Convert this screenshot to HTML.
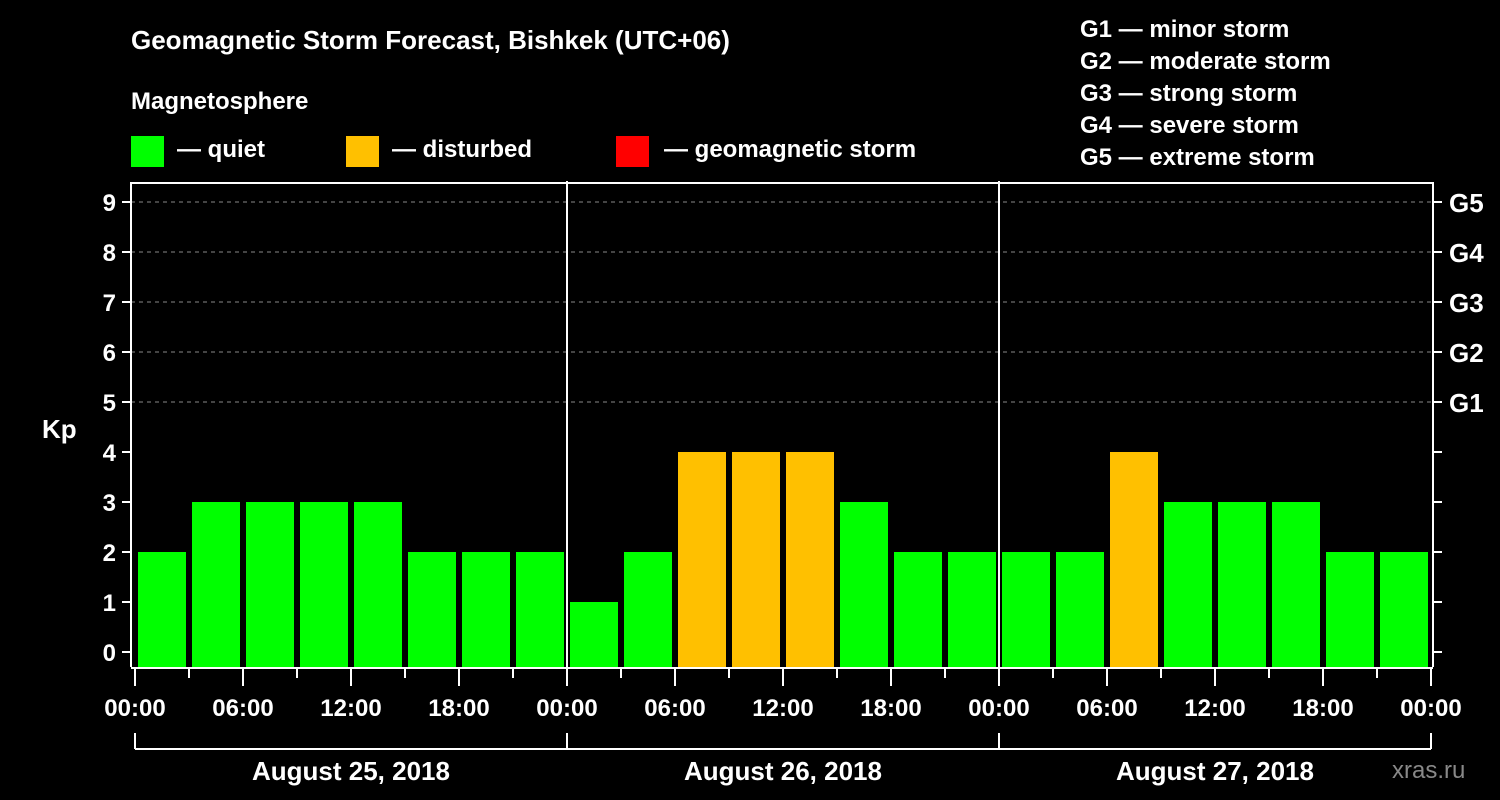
<!DOCTYPE html>
<html><head><meta charset="utf-8"><style>
html,body{margin:0;padding:0;background:#000;}
svg{display:block;font-family:"Liberation Sans",sans-serif;font-weight:bold;}
</style></head><body>
<svg id="chart" width="1500" height="800" viewBox="0 0 1500 800" xmlns="http://www.w3.org/2000/svg">
<rect width="1500" height="800" fill="#000"/>
<text x="131" y="49" fill="#fff" font-size="26">Geomagnetic Storm Forecast, Bishkek (UTC+06)</text>
<text x="131" y="109" fill="#fff" font-size="24">Magnetosphere</text>
<g><rect x="131" y="136" width="33" height="31" fill="#00ff00"/><text x="177" y="157" fill="#fff" font-size="24">— quiet</text></g>
<g><rect x="346" y="136" width="33" height="31" fill="#ffc000"/><text x="392" y="157" fill="#fff" font-size="24">— disturbed</text></g>
<g><rect x="616" y="136" width="33" height="31" fill="#ff0000"/><text x="664" y="157" fill="#fff" font-size="24">— geomagnetic storm</text></g>
<g fill="#fff" font-size="24">
<text x="1080" y="37">G1 — minor storm</text>
<text x="1080" y="69">G2 — moderate storm</text>
<text x="1080" y="101">G3 — strong storm</text>
<text x="1080" y="133">G4 — severe storm</text>
<text x="1080" y="165">G5 — extreme storm</text>
</g>
<text x="42" y="438" fill="#fff" font-size="26">Kp</text>
<text x="1392" y="778" fill="#888" font-size="24" font-weight="normal">xras.ru</text>
<g id="grid"></g><g id="bars"></g><g id="axes"></g>
</svg>
<script>
const kpValues=[2,3,3,3,3,2,2,2, 1,2,4,4,4,3,2,2, 2,2,4,3,3,3,2,2];
const dayLabels=["August 25, 2018","August 26, 2018","August 27, 2018"];
const timeLabels=["00:00","06:00","12:00","18:00"];
const gLabels=["G1","G2","G3","G4","G5"];
const NS="http://www.w3.org/2000/svg";
const X0=135,SLOT=54,Y0=652,UNIT=50,BOTTOM=667,TOP=183,LEFT=131,RIGHT=1433;
const xScale=i=>X0+i*SLOT;
const yScale=v=>Y0-v*UNIT;
function mk(tag,attrs,parent,text){const e=document.createElementNS(NS,tag);for(const k in attrs)e.setAttribute(k,attrs[k]);if(text!==undefined)e.textContent=text;document.getElementById(parent).appendChild(e);return e;}
for(let v=5;v<=9;v++){
 const l=mk('line',{x1:LEFT,x2:RIGHT,y1:yScale(v),y2:yScale(v),stroke:'#888','stroke-width':1,'stroke-dasharray':'4,4'},'grid');
 
 
}
kpValues.forEach((v,i)=>{
 const c=v>=5?'#ff0000':(v>=4?'#ffc000':'#00ff00');
 const r=mk('rect',{x:xScale(i)+3,y:yScale(v),width:SLOT-6,height:BOTTOM-yScale(v),fill:c},'bars');
 
 
});
const A='axes',W='#fff';
mk('polyline',{points:`${LEFT},${BOTTOM} ${LEFT},${TOP} ${RIGHT},${TOP} ${RIGHT},${BOTTOM}`,fill:'none',stroke:W,'stroke-width':2},A);
mk('line',{x1:LEFT,x2:RIGHT,y1:BOTTOM+1,y2:BOTTOM+1,stroke:W,'stroke-width':2},A);
for(let v=0;v<=9;v++){
 mk('line',{x1:LEFT-9,x2:LEFT,y1:yScale(v),y2:yScale(v),stroke:W,'stroke-width':2},A);
 const t=mk('text',{x:LEFT-15,y:yScale(v)+9,fill:W,'font-size':24,'text-anchor':'end'},A,String(v));
 
 
 mk('line',{x1:RIGHT,x2:RIGHT+9,y1:yScale(v),y2:yScale(v),stroke:W,'stroke-width':2},A);
}
gLabels.forEach((g,i)=>{
 const t=mk('text',{x:1449,y:yScale(5+i)+10,fill:W,'font-size':26},A,g);
 
 
});
for(let d=1;d<dayLabels.length;d++){
 mk('line',{x1:xScale(d*8),x2:xScale(d*8),y1:TOP-2,y2:BOTTOM,stroke:W,'stroke-width':2},A);
}
for(let i=0;i<=kpValues.length;i++){
 const major=i%2===0;
 mk('line',{x1:xScale(i),x2:xScale(i),y1:BOTTOM+2,y2:major?686:678,stroke:W,'stroke-width':2},A);
 if(major){
  const t=mk('text',{x:xScale(i),y:716,fill:W,'font-size':24,'text-anchor':'middle'},A,timeLabels[(i/2)%4]);
  
  
 }
}
mk('line',{x1:xScale(0),x2:xScale(kpValues.length),y1:749,y2:749,stroke:W,'stroke-width':2},A);
for(let d=0;d<=dayLabels.length;d++) mk('line',{x1:xScale(d*8),x2:xScale(d*8),y1:733,y2:749,stroke:W,'stroke-width':2},A);
dayLabels.forEach((l,d)=>{
 const t=mk('text',{x:(xScale(d*8)+xScale(d*8+8))/2,y:780,fill:W,'font-size':26,'text-anchor':'middle'},A,l);
 
 
});
</script>
</body></html>
